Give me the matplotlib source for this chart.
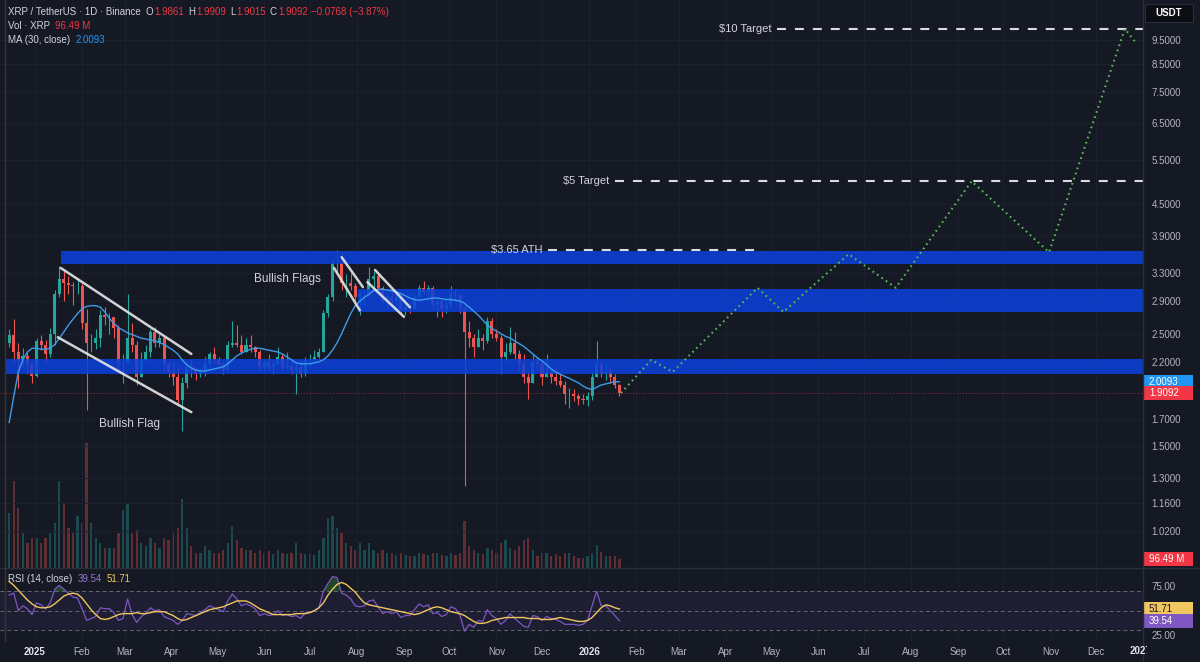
import matplotlib
matplotlib.use("Agg")
import matplotlib.pyplot as plt
import matplotlib.dates as mdates
from matplotlib.patches import Rectangle
from matplotlib.lines import Line2D
from matplotlib.ticker import NullLocator, NullFormatter, FuncFormatter
from matplotlib.transforms import Bbox
import numpy as np
import pandas as pd

plt.rcParams["font.family"] = ["Liberation Sans", "DejaVu Sans"]

# XRP / USDT, grouped as 3-day candles from 2024-12-14
candle_start = "2024-12-14"
first_open = 2.40
closes = [
    2.48, 2.30, 2.22, 2.26, 2.18, 2.06, 2.42, 2.38, 2.28, 2.50,
    3.00, 3.20, 3.15, 3.12, 3.10, 3.10, 2.62, 2.40, 2.40, 2.45,
    2.72, 2.70, 2.70, 2.57, 2.20, 2.20, 2.45, 2.38, 2.05, 2.22,
    2.30, 2.52, 2.40, 2.45, 2.18, 2.10, 2.05, 1.85, 2.00, 2.15,
    2.12, 2.08, 2.10, 2.18, 2.28, 2.22, 2.18, 2.12, 2.38, 2.40,
    2.38, 2.30, 2.38, 2.35, 2.30, 2.15, 2.20, 2.15, 2.18, 2.25,
    2.15, 2.16, 2.12, 2.15, 2.08, 2.22, 2.22, 2.25, 2.30, 2.75,
    2.95, 3.45, 3.45, 3.15, 3.15, 3.10, 2.95, 3.00, 3.00, 3.20,
    3.25, 3.08, 2.90, 2.95, 2.90, 2.95, 2.78, 2.82, 2.80, 2.95,
    3.08, 3.02, 3.08, 2.85, 2.90, 2.80, 2.85, 3.00, 2.98, 2.80,
    2.52, 2.45, 2.35, 2.45, 2.42, 2.65, 2.50, 2.45, 2.25, 2.30,
    2.40, 2.28, 2.18, 2.05, 2.00, 2.20, 2.18, 2.05, 2.10, 2.05,
    2.02, 1.98, 1.90, 1.90, 1.88, 1.86, 1.85, 1.88, 2.05, 2.18,
    2.08, 2.10, 2.05, 1.98, 1.9092,
]
highs = [
    2.55, 2.67, 2.40, 2.34, 2.30, 2.20, 2.45, 2.48, 2.43, 2.56,
    3.05, 3.40, 3.32, 3.25, 3.16, 3.22, 3.15, 2.80, 2.50, 2.55,
    2.78, 2.82, 2.75, 2.70, 2.60, 2.28, 3.00, 2.62, 2.42, 2.30,
    2.38, 2.55, 2.58, 2.50, 2.48, 2.20, 2.20, 2.15, 2.05, 2.20,
    2.22, 2.15, 2.14, 2.25, 2.30, 2.35, 2.25, 2.20, 2.42, 2.65,
    2.60, 2.48, 2.45, 2.48, 2.36, 2.32, 2.22, 2.28, 2.22, 2.35,
    2.28, 2.30, 2.20, 2.18, 2.22, 2.25, 2.28, 2.32, 2.34, 2.78,
    3.00, 3.50, 3.65, 3.62, 3.28, 3.30, 3.15, 3.02, 3.05, 3.38,
    3.32, 3.28, 3.10, 3.00, 3.08, 3.02, 2.96, 2.90, 2.88, 3.00,
    3.12, 3.18, 3.12, 3.10, 2.92, 2.92, 2.92, 3.10, 3.05, 3.00,
    2.85, 2.65, 2.50, 2.55, 2.50, 2.70, 2.68, 2.55, 2.48, 2.40,
    2.58, 2.52, 2.32, 2.28, 2.10, 2.28, 2.25, 2.20, 2.28, 2.12,
    2.15, 2.08, 2.02, 1.95, 1.94, 1.90, 1.90, 1.92, 2.10, 2.42,
    2.20, 2.18, 2.15, 2.08, 1.99,
]
lows = [
    2.35, 2.20, 1.95, 2.15, 2.08, 2.00, 2.05, 2.32, 2.20, 2.25,
    2.37, 2.95, 2.90, 3.00, 2.85, 3.00, 2.55, 1.77, 2.30, 2.33,
    2.35, 2.60, 2.50, 2.45, 2.12, 2.00, 2.18, 2.30, 1.98, 2.05,
    2.20, 2.25, 2.35, 2.35, 2.12, 2.05, 1.98, 1.82, 1.61, 1.95,
    2.05, 2.03, 2.05, 2.06, 2.15, 2.18, 2.14, 2.08, 2.10, 2.35,
    2.35, 2.28, 2.30, 2.30, 2.25, 2.12, 2.12, 2.12, 2.08, 2.18,
    2.12, 2.14, 2.08, 1.90, 2.05, 2.06, 2.15, 2.20, 2.24, 2.30,
    2.70, 2.90, 3.30, 3.05, 2.95, 3.05, 2.90, 2.72, 2.85, 2.95,
    3.05, 3.00, 2.85, 2.80, 2.85, 2.82, 2.74, 2.72, 2.75, 2.80,
    2.92, 3.00, 2.95, 2.80, 2.70, 2.70, 2.75, 2.82, 2.90, 2.75,
    1.25, 2.35, 2.25, 2.35, 2.32, 2.40, 2.45, 2.42, 2.08, 2.20,
    2.28, 2.22, 2.12, 2.00, 1.86, 2.00, 2.12, 1.98, 2.05, 2.00,
    1.98, 1.96, 1.82, 1.78, 1.84, 1.81, 1.82, 1.80, 1.85, 2.05,
    2.05, 2.03, 2.00, 1.95, 1.88,
]
volume_m = [
    590, 930, 640, 375, 270, 320, 320, 270, 320, 375,
    480, 930, 695, 430, 375, 555, 480, 1340, 480, 320,
    270, 215, 215, 215, 375, 620, 685, 375, 405, 270,
    235, 320, 270, 215, 320, 300, 375, 430, 740, 430,
    235, 160, 160, 235, 195, 160, 160, 195, 270, 450,
    300, 215, 195, 195, 160, 195, 160, 180, 150, 195,
    160, 150, 160, 270, 160, 150, 150, 140, 195, 320,
    535, 555, 430, 375, 270, 235, 195, 270, 195, 270,
    195, 160, 195, 160, 160, 140, 160, 140, 130, 130,
    160, 150, 140, 160, 160, 140, 130, 160, 140, 160,
    505, 235, 195, 160, 150, 215, 195, 160, 270, 300,
    215, 195, 235, 300, 320, 195, 130, 160, 160, 130,
    150, 130, 160, 160, 130, 107, 107, 130, 160, 245,
    170, 130, 130, 130, 96.49,
]
ma30 = [
    1.67, 1.88, 2.10, 2.22, 2.30, 2.34, 2.34, 2.33, 2.33, 2.34,
    2.38, 2.45, 2.52, 2.60, 2.67, 2.74, 2.80, 2.83, 2.84, 2.84,
    2.82, 2.76, 2.68, 2.62, 2.57, 2.54, 2.51, 2.49, 2.47, 2.45,
    2.44, 2.43, 2.42, 2.40, 2.38, 2.35, 2.32, 2.28, 2.22, 2.17,
    2.14, 2.12, 2.11, 2.11, 2.12, 2.13, 2.14, 2.15, 2.18, 2.22,
    2.26, 2.29, 2.31, 2.33, 2.34, 2.34, 2.33, 2.32, 2.31, 2.30,
    2.28, 2.25, 2.22, 2.19, 2.18, 2.18, 2.18, 2.19, 2.20, 2.22,
    2.26, 2.32, 2.40, 2.50, 2.62, 2.74, 2.84, 2.90, 2.95, 2.99,
    3.04, 3.06, 3.06, 3.05, 3.04, 3.02, 3.00, 2.97, 2.94, 2.92,
    2.91, 2.92, 2.93, 2.94, 2.94, 2.93, 2.92, 2.92, 2.91, 2.90,
    2.87, 2.82, 2.77, 2.72, 2.66, 2.60, 2.56, 2.53, 2.50, 2.47,
    2.45, 2.42, 2.39, 2.36, 2.32, 2.28, 2.24, 2.21, 2.17, 2.13,
    2.10, 2.08, 2.06, 2.04, 2.02, 2.00, 1.97, 1.95, 1.94, 1.96,
    1.98, 1.99, 2.00, 2.01, 2.0093,
]
rsi = [
    66, 68, 50, 55, 52, 46, 58, 56, 52, 58,
    72, 76, 72, 68, 64, 63, 52, 40, 42, 44,
    53, 52, 52, 48, 40, 42, 62, 46, 38, 44,
    47, 53, 50, 51, 44, 42, 40, 36, 40, 47,
    46, 45, 48, 51, 55, 53, 51, 49, 60, 67,
    62, 55, 57, 55, 52, 45, 47, 45, 46, 50,
    45, 46, 44, 45, 42, 48, 48, 50, 53, 70,
    78, 85, 84, 68, 66, 62, 55, 54, 55, 60,
    61, 54, 47, 49, 47, 49, 43, 45, 45, 51,
    57, 54, 56, 47, 48, 44, 46, 54, 52, 45,
    29, 36, 33, 40, 39, 51, 45, 42, 36, 40,
    47, 42, 38, 34, 33, 45, 44, 40, 44, 42,
    41, 39, 36, 36, 36, 35, 36, 40, 55, 70,
    55, 55, 50, 45, 39.54,
]
rsi_ma = [
    80, 76, 71, 66, 61, 57, 54, 53, 53, 54,
    57, 61, 65, 67, 68, 67, 63, 57, 51, 46,
    42, 41, 42, 44, 46, 47, 47, 47, 48, 47,
    47, 48, 49, 49, 49, 47, 45, 42, 40, 41,
    43, 45, 47, 49, 51, 52, 53, 54, 56, 58,
    60, 60, 60, 58, 55, 52, 50, 48, 46, 46,
    46, 46, 46, 47, 47, 47, 48, 50, 53, 58,
    66, 72, 77, 79, 77, 73, 69, 63, 58, 56,
    55, 54, 53, 52, 51, 50, 49, 48, 47, 46,
    47, 49, 51, 53, 54, 53, 51, 49, 48, 47,
    45, 42, 39, 37, 37, 38, 40, 41, 42, 43,
    43, 43, 43, 43, 42, 42, 42, 41, 41, 41,
    42, 43, 42, 41, 40, 39, 39, 40, 43, 48,
    53, 56, 55, 53, 51.71,
]

# blue support / resistance zones
zone_starts = ["2024-12-13", "2025-08-02", "2025-01-18"]
zone_bottoms = [2.08, 2.76, 3.43]
zone_tops = [2.23, 3.06, 3.64]

# white flag channel lines
flag_starts = ["2025-01-18", "2025-01-16", "2025-07-22", "2025-07-17", "2025-08-13", "2025-08-08"]
flag_start_prices = [3.37, 2.46, 3.54, 3.37, 3.34, 3.16]
flag_ends = ["2025-04-14", "2025-04-14", "2025-08-05", "2025-08-03", "2025-09-05", "2025-09-01"]
flag_end_prices = [2.28, 1.75, 3.09, 2.78, 2.82, 2.70]

# dashed target levels
target_labels = ["$3.65 ATH", "$5 Target", "$10 Target"]
target_prices = [3.65, 5.0, 10.0]
target_from = ["2025-12-05", "2026-01-18", "2026-05-05"]
target_to = ["2026-04-25", "2027-01-01", "2027-01-01"]

# projected path (green dotted)
proj_dates = ["2026-01-22", "2026-02-11", "2026-02-25", "2026-04-22", "2026-05-09", "2026-06-21",
              "2026-07-22", "2026-09-10", "2026-10-31", "2026-12-20", "2026-12-27"]
proj_prices = [1.909, 2.22, 2.10, 3.08, 2.76, 3.59, 3.08, 5.0, 3.62, 10.0, 9.4]

price_ticks = [1.02, 1.16, 1.3, 1.5, 1.7, 2.2, 2.5, 2.9, 3.3, 3.9, 4.5, 5.5, 6.5, 7.5, 8.5, 9.5]

BG = "#151924"
GRID = "#1e2230"
SEP = "#2a2e39"
TXT = "#b2b5be"
TXT_HI = "#d1d4dc"
UP = "#26a69a"
DOWN = "#ef5350"
RED = "#f23645"
ZONE = "#0b41dc"
MA_C = "#3d9be9"
PURPLE = "#7e57c2"
YELLOW = "#f0c75e"

W, H = 1200, 662


def px_rect(left, top, right, bottom):
    return [left / W, 1 - bottom / H, (right - left) / W, (bottom - top) / H]


def px_text(x, y, s, color=TXT_HI, **kw):
    return fig.text(x / W, 1 - y / H, s, color=color, va="center", **kw)


def chain_text(x, y, parts, size=7):
    # place text pieces one after another, measuring each rendered width
    renderer = fig.canvas.get_renderer()
    for s, col, gap in parts:
        t = px_text(x, y, s, color=col, fontsize=size)
        x = t.get_window_extent(renderer).x1 + gap


dn = lambda s: mdates.date2num(pd.Timestamp(s))

dates = pd.date_range(candle_start, periods=len(closes), freq="3D")
x = mdates.date2num(dates) + 1.0
c = np.array(closes)
o = np.array([first_open] + closes[:-1])
h = np.array(highs)
l = np.array(lows)
colors = np.where(c >= o, UP, DOWN)

jan1 = dn("2025-01-01")
xmin = jan1 - 35 / 1.518
xmax = jan1 + (1143 - 35) / 1.518

fig = plt.figure(figsize=(12, 6.62), dpi=100, facecolor=BG)
ax_vol = fig.add_axes(px_rect(0, 0, 1143, 568))
ax = fig.add_axes(px_rect(0, 0, 1143, 568), sharex=ax_vol)
ax_rsi = fig.add_axes(px_rect(0, 568, 1143, 641), sharex=ax_vol)
for a in (ax_vol, ax, ax_rsi):
    a.set_facecolor("none")
    for sp in a.spines.values():
        sp.set_visible(False)

# volume overlay
ax_vol.bar(x, volume_m, width=1.5, color=colors, alpha=0.35, linewidth=0)
ax_vol.set_ylim(0, 568 * 10.7)
ax_vol.set_yticks([])
ax_vol.tick_params(axis="x", labelbottom=False, length=0)

# price pane
ax.set_yscale("log")
ax.set_xlim(xmin, xmax)
ax.set_ylim(np.exp(2.2513 - 528 / 220), np.exp(2.2513 + 40 / 220))

ax.vlines(x, l, h, colors=colors, lw=0.8, zorder=2)
ax.bar(x, np.abs(c - o), bottom=np.minimum(c, o), width=2.0, color=colors, linewidth=0, zorder=2)

for start, bot, top in zip(zone_starts, zone_bottoms, zone_tops):
    ax.fill_between([dn(start), xmax], bot, top, color=ZONE, alpha=0.85, lw=0, zorder=3)

ax.plot(x, ma30, color=MA_C, lw=1.0, zorder=4)
ax.axhline(c[-1], color=RED, lw=0.7, ls=(0, (1, 2)), alpha=0.6, zorder=1)

for s, ps, e, pe in zip(flag_starts, flag_start_prices, flag_ends, flag_end_prices):
    ax.plot([dn(s), dn(e)], [ps, pe], color="#e6e6e6", lw=1.8, alpha=0.9,
            solid_capstyle="round", zorder=5)

for lab, p, f, t in zip(target_labels, target_prices, target_from, target_to):
    ax.plot([dn(f), dn(t)], [p, p], color="#d9dbe0", lw=1.5, ls=(0, (4.3, 4.3)), zorder=5)
    ax.text(dn(f) - 4, p, lab, ha="right", va="center", fontsize=8, color=TXT_HI, zorder=6)

ax.plot([dn(d) for d in proj_dates], proj_prices, color="#5cb85c", lw=1.5,
        ls=(0, (0.8, 1.8)), zorder=6)

ax.text(dn("2025-06-16"), 3.21, "Bullish Flags", ha="center", va="center", fontsize=8.5, color=TXT_HI, zorder=6)
ax.text(dn("2025-03-04"), 1.66, "Bullish Flag", ha="center", va="center", fontsize=8.5, color=TXT_HI, zorder=6)

ax.set_yticks(price_ticks)
ax.yaxis.set_minor_locator(NullLocator())
ax.yaxis.set_minor_formatter(NullFormatter())
ax.yaxis.set_major_formatter(FuncFormatter(lambda v, _: f"{v:.4f}"))
ax.yaxis.tick_right()
ax.tick_params(axis="y", length=0, pad=6, labelsize=7, labelcolor=TXT)
ax.tick_params(axis="x", labelbottom=False, length=0)
ax.grid(True, color=GRID, lw=0.6)
ax.set_axisbelow(True)

# RSI pane
ax_rsi.set_ylim(18.9, 93.8)
ax_rsi.axhspan(30, 70, color=PURPLE, alpha=0.09, lw=0)
for lvl in (70, 50, 30):
    ax_rsi.axhline(lvl, color="#787b86", lw=0.7, ls=(0, (4, 3)), alpha=0.8)
rsi_arr = np.array(rsi, dtype=float)
ax_rsi.fill_between(x, 70, rsi_arr, where=rsi_arr > 70, interpolate=True, color="#2e7d32", alpha=0.45, lw=0)
ax_rsi.plot(x, rsi, color=PURPLE, lw=0.9)
ax_rsi.plot(x, rsi_ma, color=YELLOW, lw=1.0)
ax_rsi.set_yticks([25, 75])
ax_rsi.yaxis.set_major_formatter(FuncFormatter(lambda v, _: f"{v:.2f}"))
ax_rsi.yaxis.tick_right()
ax_rsi.tick_params(axis="y", length=0, pad=6, labelsize=7, labelcolor=TXT)
ax_rsi.grid(True, axis="x", color=GRID, lw=0.6)

months = pd.date_range("2025-01-01", "2027-01-01", freq="MS")
month_labels = [str(m.year) if m.month == 1 else m.strftime("%b") for m in months]
month_labels[-1] = ""
ax_rsi.set_xticks(mdates.date2num(months))
ax_rsi.set_xticklabels(month_labels)
ax_rsi.tick_params(axis="x", length=0, pad=4, labelsize=7, labelcolor=TXT)
for lbl in ax_rsi.get_xticklabels():
    if lbl.get_text().isdigit():
        lbl.set_fontweight("bold")
        lbl.set_color("#e0e3eb")
ax_rsi.set_xlim(xmin, xmax)

t27 = px_text(1141, 651, "2027", color="#e0e3eb", ha="center", fontsize=7, fontweight="bold")
t27.set_clip_on(True)
t27.set_clip_box(Bbox([[0, 0], [1147, H]]))

# separators
fig.add_artist(Line2D([1143 / W, 1143 / W], [0, 1], color=SEP, lw=1))
fig.add_artist(Line2D([0, 1], [94 / H, 94 / H], color=SEP, lw=1))
fig.add_artist(Line2D([5 / W, 5 / W], [21 / H, 1], color="#3b3522", lw=1))


def scale_tag(axis, value, text, fc, tc):
    yd = axis.transData.transform((xmin, value))[1]
    y = fig.transFigure.inverted().transform((0, yd))[1]
    fig.add_artist(Rectangle((1144 / W, y - 7 / H), 49 / W, 14 / H,
                             transform=fig.transFigure, fc=fc, ec="none"))
    fig.text(1149 / W, y, text, color=tc, fontsize=7, va="center", ha="left")


scale_tag(ax, ma30[-1], f"{ma30[-1]:.4f}", "#2196f3", "white")
scale_tag(ax, c[-1], f"{c[-1]:.4f}", RED, "white")
scale_tag(ax_vol, volume_m[-1], f"{volume_m[-1]:.2f} M", RED, "white")
scale_tag(ax_rsi, rsi_ma[-1], f"{rsi_ma[-1]:.2f}", YELLOW, "#131722")
scale_tag(ax_rsi, rsi[-1], f"{rsi[-1]:.2f}", PURPLE, "white")

fig.add_artist(Rectangle((1145 / W, 1 - 22 / H), 48 / W, 18 / H, transform=fig.transFigure,
                         fc="#0c0e14", ec=SEP, lw=0.8))
px_text(1169, 13, "USDT", color="white", ha="center", fontsize=7, fontweight="bold")

# legend texts
chain_text(8, 12, [("XRP / TetherUS · 1D · Binance", TXT_HI, 5),
                   ("O", TXT_HI, 1), ("1.9861", RED, 4),
                   ("H", TXT_HI, 1), ("1.9909", RED, 4),
                   ("L", TXT_HI, 1), ("1.9015", RED, 4),
                   ("C", TXT_HI, 1), ("1.9092", RED, 3),
                   ("−0.0768 (−3.87%)", RED, 0)])
chain_text(8, 26, [("Vol · XRP", TXT_HI, 5), ("96.49 M", RED, 0)])
chain_text(8, 40, [("MA (30, close)", TXT_HI, 5), ("2.0093", "#2196f3", 0)])
chain_text(8, 579, [("RSI (14, close)", TXT_HI, 5), ("39.54", "#9575cd", 5), ("51.71", YELLOW, 0)])

fig.savefig("out.png", dpi=100, facecolor=BG)
